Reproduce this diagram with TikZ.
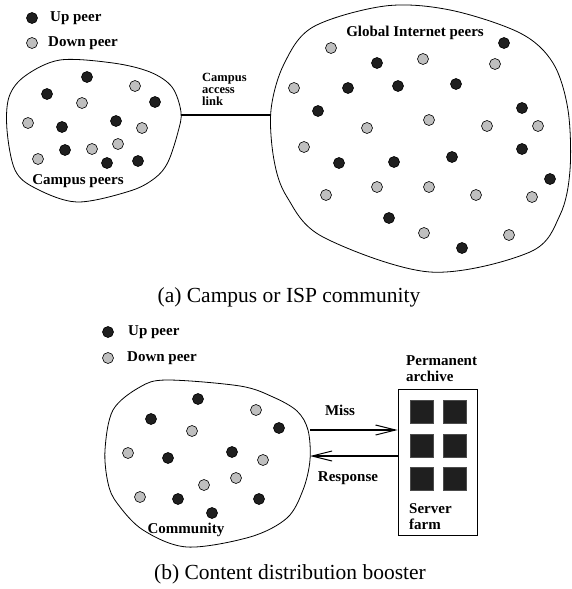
\documentclass[tikz,border=0pt]{standalone}
\usepackage{fontspec}
\setmainfont{Liberation Serif}
\usepackage{tikz}
\usetikzlibrary{calc,positioning,arrows.meta}

\newcommand{\peerfont}{\fontsize{15}{16}\selectfont\bfseries}
\newcommand{\linkfont}{\fontsize{12.5}{12}\selectfont\bfseries}
\newcommand{\capfont}{\fontsize{21.5}{24}\selectfont}

\begin{document}
\begin{tikzpicture}[
    x=1pt, y=-1pt,
    every node/.style={font=\peerfont},
    up/.style={circle, draw=black, line width=0.6pt, fill=black!88,
        inner sep=0pt, minimum size=11pt},
    down/.style={circle, draw=black, line width=0.6pt, fill=black!25,
        inner sep=0pt, minimum size=11pt},
    blob/.style={draw=black, line width=0.8pt},
    txt/.style={inner sep=0pt, align=left},
    subcap/.style={font=\capfont, inner sep=0pt},
    msg/.style={draw=black, line width=1.1pt,
        -{Straight Barb[length=20pt, width=10pt, line width=1pt]}},
    srv/.style={rectangle, draw=black!70, fill=black!88, line width=0.4pt,
        inner sep=0pt, minimum size=23pt},
]
    \useasboundingbox (0,0) rectangle (571,589);

    % (a) legend
    \node[up]   (lu1) at (32,18) {};
    \node[down] (ld1) at (32,43) {};
    \node[txt, anchor=west] (lut1) at (50,18) {Up peer};
    \node[txt, anchor=west] (ldt1) at (48,43) {Down peer};

    % (a) campus
    \draw[blob] plot[smooth cycle, tension=0.55] coordinates {
        (60,60) (113,63) (150,72) (172,87) (181,112) (178,132)
        (168,162) (155,178) (130,191) (77,202) (35,188) (15,170)
        (7,130) (9,97) (25,76)};
    \foreach \x/\y [count=\i] in {87/77, 47/94, 155/102, 62/127, 116/121,
        65/150, 107/163, 138/161}
        \node[up] (cu\i) at (\x,\y) {};
    \foreach \x/\y [count=\i] in {135/86, 82/103, 28/123, 142/128, 118/144,
        92/149, 38/159}
        \node[down] (cd\i) at (\x,\y) {};
    \node[txt] (campus) at (78,181) {Campus peers};

    % (a) global internet
    \draw[blob] plot[smooth cycle, tension=0.55] coordinates {
        (313,27) (385,6) (450,10) (520,33) (553,63) (568,110)
        (570,170) (560,215) (530,252) (430,272) (323,237) (287,197)
        (274,160) (271,110) (284,64)};
    \foreach \x/\y [count=\i] in {504/43, 377/63, 348/88, 398/86, 456/84,
        318/111, 522/108, 522/149, 339/163, 394/162, 452/157, 550/179,
        389/218, 462/248}
        \node[up] (gu\i) at (\x,\y) {};
    \foreach \x/\y [count=\i] in {331/48, 423/59, 495/64, 294/88, 429/120,
        367/128, 487/126, 538/126, 304/147, 326/195, 377/187, 429/187,
        476/195, 532/197, 424/233, 509/235}
        \node[down] (gd\i) at (\x,\y) {};
    \node[txt] (global) at (415,33) {Global Internet peers};

    % (a) access link
    \coordinate (campusR) at (180.5,115);
    \coordinate (globalL) at (271,115);
    \draw[line width=2.2pt] (campusR) -- (globalL);
    \node[txt, font=\linkfont, anchor=north west] (link) at (202,73)
        {Campus\\access\\link};

    \node[subcap] (capa) at (289,297) {(a) Campus or ISP community};

    % (b) legend
    \node[up]   (lu2) at (108,332) {};
    \node[down] (ld2) at (108,358) {};
    \node[txt, anchor=west] (lut2) at (128,332) {Up peer};
    \node[txt, anchor=west] (ldt2) at (127,358) {Down peer};

    % (b) community
    \draw[blob] plot[smooth cycle, tension=0.55] coordinates {
        (140,387) (167,380) (240,386) (273,397) (297,411) (308,430)
        (310,460) (303,490) (287,518) (250,537) (187,547) (143,530)
        (117,503) (108,483) (105,450) (113,410)};
    \foreach \x/\y [count=\i] in {198/399, 151/419, 279/428, 168/458,
        232/452, 178/499, 259/499, 212/513}
        \node[up] (mu\i) at (\x,\y) {};
    \foreach \x/\y [count=\i] in {256/410, 192/431, 128/453, 263/460,
        236/478, 204/485, 140/497}
        \node[down] (md\i) at (\x,\y) {};
    \node[txt] (comm) at (186,530) {Community};

    % (b) server farm
    \node[rectangle, draw=black, line width=0.8pt, minimum width=79pt,
        minimum height=146pt, inner sep=0pt] (farm) at (437.5,462) {};
    \foreach \x/\y [count=\i] in {421.5/411.5, 455/411.5, 421.5/445.5,
        455/445.5, 421.5/479, 455/479}
        \node[srv] (sq\i) at (\x,\y) {};
    \node[txt, anchor=north west] (arch) at (406,355)
        {Permanent\\archive};
    \node[txt, anchor=north west] (sfarm) at (409,503)
        {Server\\farm};

    % (b) miss / response
    \coordinate (commA) at (310,430);
    \coordinate (commB) at (310,456);
    \draw[msg] (commA) -- (commA -| farm.west);
    \draw[msg] (commB -| farm.west) -- (commB);
    \node[txt] (miss) at (340,410) {Miss};
    \node[txt] (resp) at (348,478) {Response};

    \node[subcap] (capb) at (290,574) {(b) Content distribution booster};
\end{tikzpicture}
\end{document}
